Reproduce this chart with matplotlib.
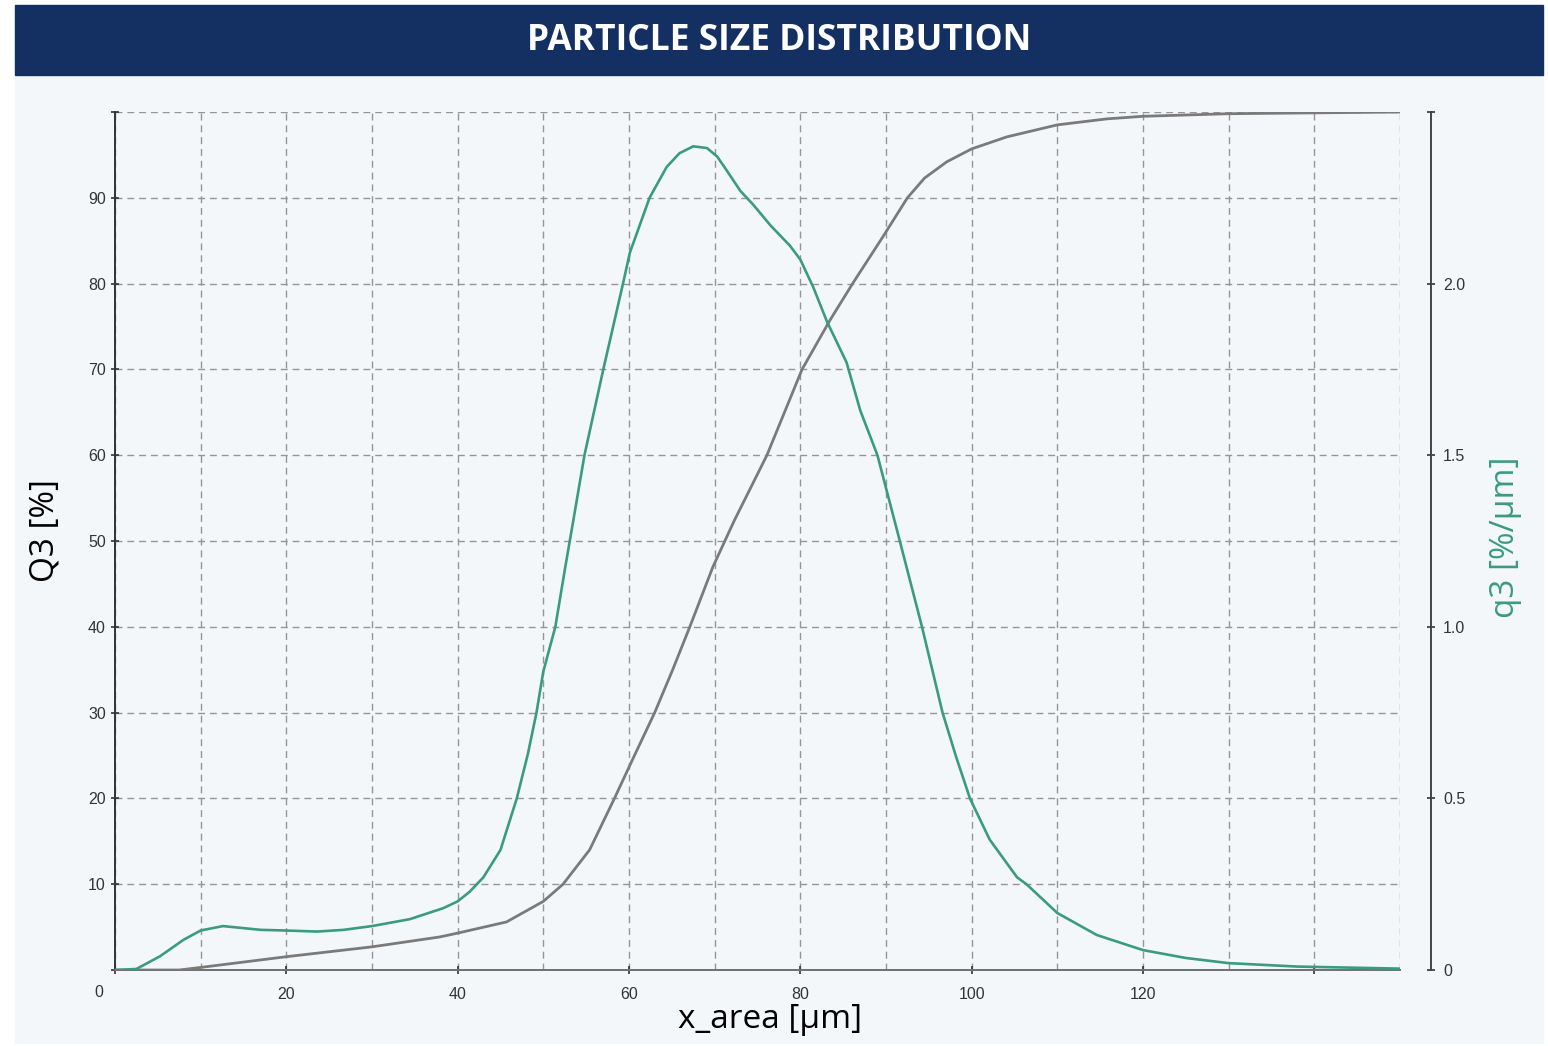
import numpy as np
import matplotlib.pyplot as plt
from matplotlib.patches import Rectangle

# cumulative distribution Q3 [%]
size_cum = [0, 7.5, 10, 20, 30, 37.9, 40, 45.7, 50, 52.3, 55.4, 58.3, 60.4, 63.0,
            65.1, 67.1, 69.8, 72.3, 76.1, 80.2, 83.5, 86.1, 89.6, 92.5,
            94.5, 97.1, 100, 104.1, 110, 115.8, 120, 130, 150]
Q3 = [0, 0, 0.3, 1.55, 2.7, 3.85, 4.3, 5.6, 8.0, 10, 14, 20, 24.5, 30,
      35, 40, 47, 52.4, 60, 70, 75.8, 80, 85.4, 90,
      92.3, 94.2, 95.7, 97.1, 98.5, 99.2, 99.5, 99.8, 100]

# density distribution q3 [%/um]
size_dens = [0, 2.5, 5.25, 8, 10, 12.6, 15, 17, 20, 23.6, 26.7, 30, 34.4, 38.3,
             40, 41.4, 43, 45, 46.9, 48.2, 49.2, 50, 51.4, 52.5, 53.5, 54.8,
             57.0, 59.3, 60.1, 62.4, 64.4, 65.9, 67.5, 69.1, 70.3, 71.4, 73.0,
             74.5, 76.5, 78.8, 80.0, 81.5, 83.1, 85.4, 87.0, 89.0, 91.3, 94.2,
             96.6, 98.2, 99.8, 102.1, 105.3, 106.4, 110, 114.6, 120, 125, 130,
             138, 150]
q3 = [0, 0.003, 0.04, 0.088, 0.115, 0.128, 0.122, 0.117, 0.115, 0.112, 0.117,
      0.128, 0.148, 0.18, 0.2, 0.228, 0.27, 0.35, 0.5, 0.63, 0.75, 0.87, 1.0,
      1.165, 1.31, 1.5, 1.75, 2.0, 2.09, 2.25, 2.34, 2.38, 2.40, 2.395, 2.37,
      2.33, 2.27, 2.23, 2.17, 2.11, 2.07, 1.99, 1.89, 1.77, 1.63, 1.5, 1.28,
      1.0, 0.75, 0.62, 0.5, 0.38, 0.27, 0.25, 0.166, 0.102, 0.058, 0.035, 0.02,
      0.01, 0.004]

x_ticks = [0, 20, 40, 60, 80, 100, 120, 140]
x_labels = ['', '20', '40', '60', '80', '100', '120', '']
y_ticks = list(range(0, 101, 10))
y_labels = [''] + [str(v) for v in range(10, 91, 10)] + ['']
q_ticks = [0, 0.5, 1.0, 1.5, 2.0, 2.5]
q_labels = ['0', '0.5', '1.0', '1.5', '2.0', '']

navy = '#143062'
panel = '#f4f7fa'
green = '#3a9c7d'
grey = '#7a7a7a'
grid_kw = dict(color='#959595', linewidth=1.0, linestyle=(0, (5, 3.5)))

W, H = 1548, 1046
fig = plt.figure(figsize=(W / 100, H / 100), dpi=100)
fig.patch.set_facecolor('white')

# light panel + title banner (behind the axes)
fig.patches.append(Rectangle((15 / W, 3 / H), 1528 / W, (1046 - 78) / H,
                             transform=fig.transFigure, color=panel, zorder=-2))
fig.patches.append(Rectangle((15 / W, 1 - 75 / H), 1528 / W, 70 / H,
                             transform=fig.transFigure, color=navy, zorder=-1))
fig.text(779 / W, 1 - 41 / H, 'PARTICLE SIZE DISTRIBUTION', color='white',
         fontsize=25.5, fontweight='bold', family='Open Sans', ha='center', va='center')

ax = fig.add_axes([115 / W, 1 - 970 / H, 1285 / W, 858 / H])
ax.set_facecolor('none')
ax.set_xlim(0, 150)
ax.set_ylim(0, 100)

ax.set_xticks(x_ticks)
ax.set_xticklabels(x_labels)
ax.set_xticks(np.arange(10, 151, 20), minor=True)
ax.set_yticks(y_ticks)
ax.set_yticklabels(y_labels)
ax.tick_params(axis='both', which='major', direction='inout', length=6, width=1.2,
               colors='#333333', labelsize=11.5)
ax.tick_params(axis='x', which='major', pad=9)
ax.tick_params(axis='y', which='major', pad=3.5)
ax.tick_params(axis='x', which='minor', length=0)
for lab in ax.get_xticklabels() + ax.get_yticklabels():
    lab.set_family('Liberation Sans')
ax.grid(True, which='both', axis='x', **grid_kw)
ax.grid(True, which='major', axis='y', **grid_kw)
ax.set_axisbelow(True)

ax.spines['top'].set_visible(False)
ax.spines['right'].set_visible(False)
ax.spines['left'].set_color('#333333')
ax.spines['left'].set_linewidth(1.4)
ax.spines['bottom'].set_color('#6f6f6f')
ax.spines['bottom'].set_linewidth(1.4)

# origin label sits left of the axis corner
ax.annotate('0', xy=(0, 0), xycoords='data', xytext=(-12, -16),
            textcoords='offset points', ha='center', va='center',
            fontsize=11.5, color='#333333', family='Liberation Sans')

ax.plot(size_cum, Q3, color=grey, linewidth=2.0, zorder=3,
        solid_joinstyle='round', solid_capstyle='round')

ax2 = ax.twinx()
ax2.set_ylim(0, 2.5)
ax2.set_yticks(q_ticks)
ax2.set_yticklabels(q_labels)
ax2.spines['right'].set_position(('outward', 22))
ax2.spines['right'].set_color('#444444')
ax2.spines['right'].set_linewidth(1.4)
for s in ['top', 'left', 'bottom']:
    ax2.spines[s].set_visible(False)
ax2.tick_params(axis='y', direction='inout', length=6, width=1.2, colors='#333333',
                labelsize=11.5, pad=6)
for lab in ax2.get_yticklabels():
    lab.set_family('Liberation Sans')
ax2.plot(size_dens, q3, color=green, linewidth=1.9, zorder=3,
         solid_joinstyle='round', solid_capstyle='round')

fig.text(45 / W, 1 - 531 / H, 'Q3 [%]', rotation=90, fontsize=24, family='Open Sans',
         ha='center', va='center', color='black')
fig.text(770 / W, 1 - 1020 / H, 'x_area [µm]', fontsize=24, family='Open Sans',
         ha='center', va='center', color='black')
fig.text(1505 / W, 1 - 537 / H, 'q3 [%/µm]', rotation=90, fontsize=24, family='Open Sans',
         ha='center', va='center', color=green)

fig.savefig('out.png', dpi=100)
